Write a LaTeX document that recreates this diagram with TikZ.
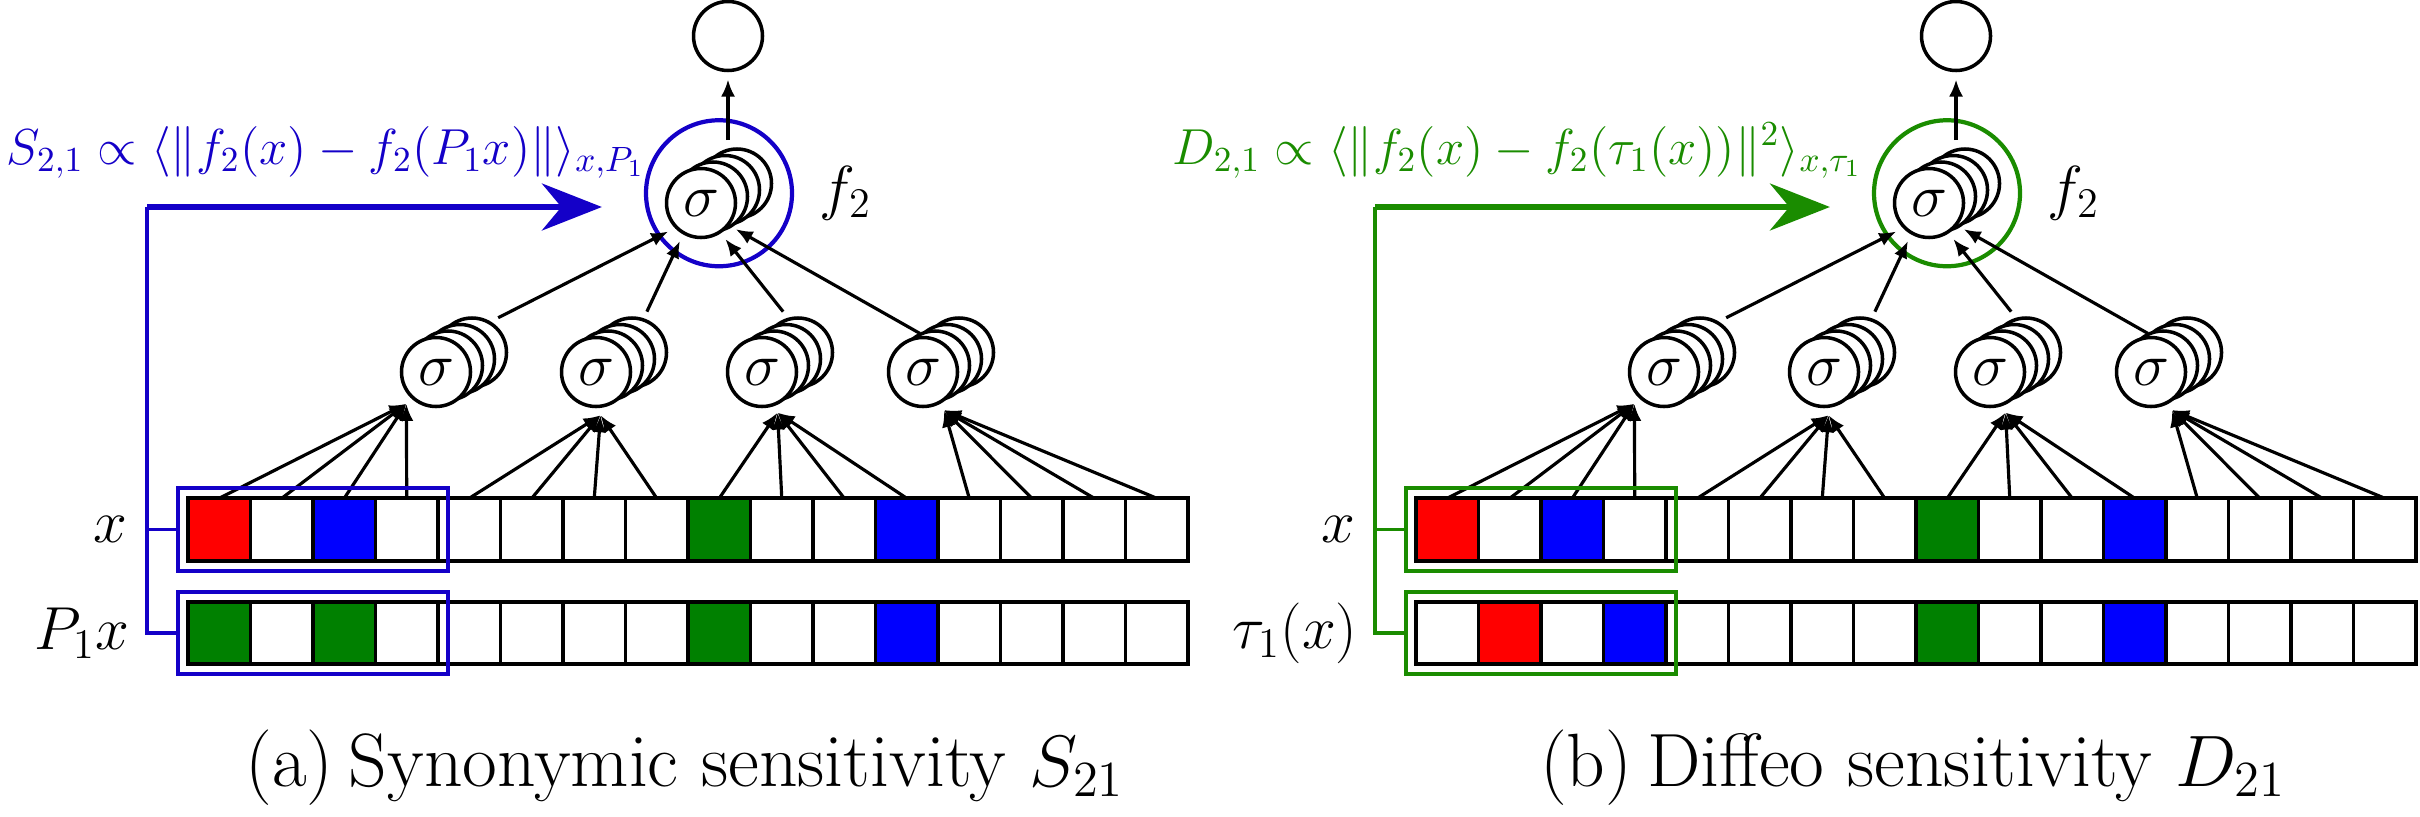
\documentclass[tikz,border=0pt]{standalone}
\usepackage{amsmath,amssymb}
\usetikzlibrary{arrows.meta,positioning,fit,calc}
\definecolor{selblue}{RGB}{20,0,200}
\definecolor{selgreen}{RGB}{26,140,0}
\definecolor{cellred}{RGB}{255,0,0}
\definecolor{cellblue}{RGB}{0,0,255}
\definecolor{cellgreen}{RGB}{0,128,0}
\tikzset{
  cell/.style={draw=black,line width=1.1pt,minimum width=0.625cm,minimum height=0.625cm,inner sep=0pt,outer sep=0pt},
  neuron/.style={circle,draw=black,fill=white,line width=1pt,minimum size=0.69cm,inner sep=0pt,outer sep=0.09cm,font=\fontsize{18}{20}\selectfont},
  ring/.style={circle,line width=1.2pt,minimum size=1.46cm,inner sep=0pt},
  selbox/.style={line width=1.1pt,inner sep=0.1cm},
  selline/.style={line width=1.1pt},
  selarr/.style={-{Stealth[length=6mm,width=4.7mm]},line width=1.5pt,shorten >=0.42cm},
  conn/.style={-{Latex[length=1.7mm,width=1.4mm]},line width=0.9pt},
  lab/.style={font=\fontsize{17}{20}\selectfont,inner sep=0pt},
  formula/.style={font=\fontsize{14.3}{16}\selectfont,inner sep=0pt},
  capt/.style={font=\fontsize{21.5}{24}\selectfont,inner sep=0pt}
}
\begin{document}
\begin{tikzpicture}[x=1cm,y=1cm]
\path[use as bounding box] (0,0) rectangle (24.2,8.16);
\foreach \p/\dx/\col/\fx/\rowb/\lab/\frm/\cpt in {
a/0/selblue/6.46/{cellgreen,white,cellgreen,white,white,white,white,white,cellgreen,white,white,cellblue,white,white,white,white}/{$P_1x$}/{$S_{2,1}\propto\langle\|f_2(x)-f_2(P_1x)\|\rangle_{x,P_1}$}/{(a)\hspace{0.2em}Synonymic sensitivity $S_{21}$},
b/12.28/selgreen/6.35/{white,cellred,white,cellblue,white,white,white,white,cellgreen,white,white,cellblue,white,white,white,white}/{$\tau_1(x)$}/{$D_{2,1}\propto\langle\|f_2(x)-f_2(\tau_1(x))\|^2\rangle_{x,\tau_1}$}/{(b)\hspace{0.2em}Diffeo sensitivity $D_{21}$}}
{
% input rows
\foreach \fc [count=\k] in {cellred,white,cellblue,white,white,white,white,white,cellgreen,white,white,cellblue,white,white,white,white}
  \node[cell,fill=\fc] (x\p\k) at (\dx+1.5675+0.625*\k,2.865) {};
\foreach \fc [count=\k] in \rowb
  \node[cell,fill=\fc] (q\p\k) at (\dx+1.5675+0.625*\k,1.83) {};
\node[lab,anchor=east] (lx\p) at (\dx+1.28,2.865) {$x$};
\node[lab,anchor=east] (lq\p) at (\dx+1.30,1.83) {\lab};
% hidden layer, stacked channels
\foreach \n/\hx in {1/4.36,2/5.96,3/7.62,4/9.23}{
  \foreach \s in {3,2,1} \node[neuron] (h\p\n-\s) at (\dx+\hx+0.12*\s,4.44+0.065*\s) {};
  \node[neuron] (h\p\n) at (\dx+\hx,4.44) {$\sigma$};
}
\foreach \s in {3,2,1} \node[neuron] (f\p-\s) at (\dx+7.01+0.12*\s,6.13+0.065*\s) {};
\node[neuron] (f\p) at (\dx+7.01,6.13) {$\sigma$};
\node[neuron] (o\p) at (\dx+7.28,7.80) {};
\node[ring,draw=\col] (r\p) at ($(f\p-1)!0.5!(f\p-2)$) {};
\node[lab,right=0.25cm of r\p] (fl\p) {$f_2$};
% connections
\foreach \n/\a in {1/227,2/276,3/291,4/299}
  \foreach \j in {1,...,4}{
    \pgfmathtruncatemacro{\k}{4*\n-4+\j}
    \draw[conn] (x\p\k.north) -- (h\p\n.\a);
  }
\foreach \n/\s/\t in {1/53/221,2/70/241,3/110/304,4/154/323}
  \draw[conn] (h\p\n-3.\s) -- (f\p.\t);
\draw[conn] (f\p-3.north -| o\p) -- (o\p);
% selected patch and sensitivity
\node[selbox,draw=\col,fit=(x\p1)(x\p4)] (b\p1) {};
\node[selbox,draw=\col,fit=(q\p1)(q\p4)] (b\p2) {};
\coordinate (c\p) at (\dx+1.47,6.09);
\draw[selline,draw=\col] (b\p1.west) -| (c\p) (b\p2.west) -| (c\p);
\draw[selarr,draw=\col] (c\p) -- (c\p -| r\p.west);
\node[formula,text=\col,anchor=base east] (e\p) at (\dx+\fx,6.52) {\frm};
\node[capt,anchor=base] (t\p) at (\dx+6.85,0.30) {\cpt};
}
\end{tikzpicture}
\end{document}
